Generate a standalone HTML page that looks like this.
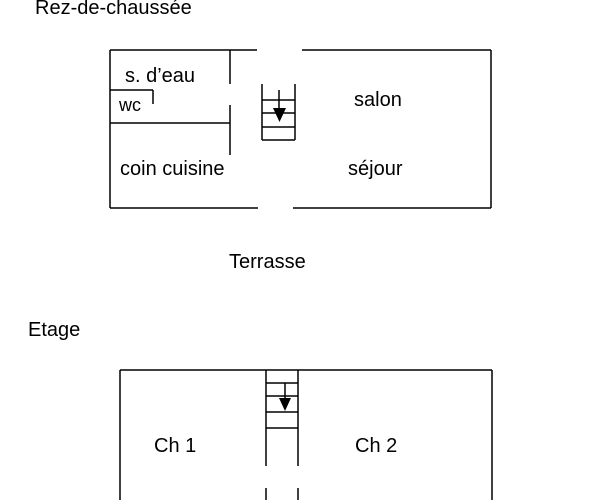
<!DOCTYPE html>
<html><head><meta charset="utf-8"><style>
html,body{margin:0;padding:0;background:#fff;}
svg{display:block}
text{font-family:"Liberation Sans",Arial,sans-serif;font-size:20px;fill:#000}
</style></head><body>
<svg width="604" height="500" viewBox="0 0 604 500">
<g stroke="#000" stroke-width="1.5" fill="none">
<line x1="110" y1="50" x2="257" y2="50"/>
<line x1="302" y1="50" x2="491" y2="50"/>
<line x1="491" y1="50" x2="491" y2="208"/>
<line x1="110" y1="50" x2="110" y2="208"/>
<line x1="110" y1="208" x2="258" y2="208"/>
<line x1="293" y1="208" x2="491" y2="208"/>
<line x1="230" y1="50" x2="230" y2="84"/>
<line x1="230" y1="105" x2="230" y2="155"/>
<line x1="110" y1="123" x2="230" y2="123"/>
<line x1="110" y1="90" x2="153" y2="90"/>
<line x1="153" y1="90" x2="153" y2="104"/>
<line x1="262" y1="84" x2="262" y2="140"/>
<line x1="295" y1="84" x2="295" y2="140"/>
<line x1="262" y1="140" x2="295" y2="140"/>
<line x1="262" y1="100" x2="295" y2="100"/>
<line x1="262" y1="113" x2="295" y2="113"/>
<line x1="262" y1="127" x2="295" y2="127"/>
<line x1="279" y1="90" x2="279" y2="110"/>
<line x1="120" y1="370" x2="492" y2="370"/>
<line x1="120" y1="370" x2="120" y2="500"/>
<line x1="492" y1="370" x2="492" y2="500"/>
<line x1="266" y1="370" x2="266" y2="466"/>
<line x1="298" y1="370" x2="298" y2="466"/>
<line x1="266" y1="488" x2="266" y2="500"/>
<line x1="298" y1="488" x2="298" y2="500"/>
<line x1="266" y1="383" x2="298" y2="383"/>
<line x1="266" y1="396" x2="298" y2="396"/>
<line x1="266" y1="412" x2="298" y2="412"/>
<line x1="266" y1="428" x2="298" y2="428"/>
<line x1="285" y1="383" x2="285" y2="400"/>
</g>
<polygon points="273,108 286,108 279.5,122" fill="#000"/>
<polygon points="279,398 291,398 285,411" fill="#000"/>
<text x="35" y="14">Rez-de-chaussée</text>
<text x="125" y="82">s. d’eau</text>
<text x="119" y="111" style="font-size:18px">wc</text>
<text x="354" y="106">salon</text>
<text x="120" y="175">coin cuisine</text>
<text x="348" y="175">séjour</text>
<text x="229" y="268">Terrasse</text>
<text x="28" y="336">Etage</text>
<text x="154" y="452">Ch 1</text>
<text x="355" y="452">Ch 2</text>
</svg>
</body></html>
